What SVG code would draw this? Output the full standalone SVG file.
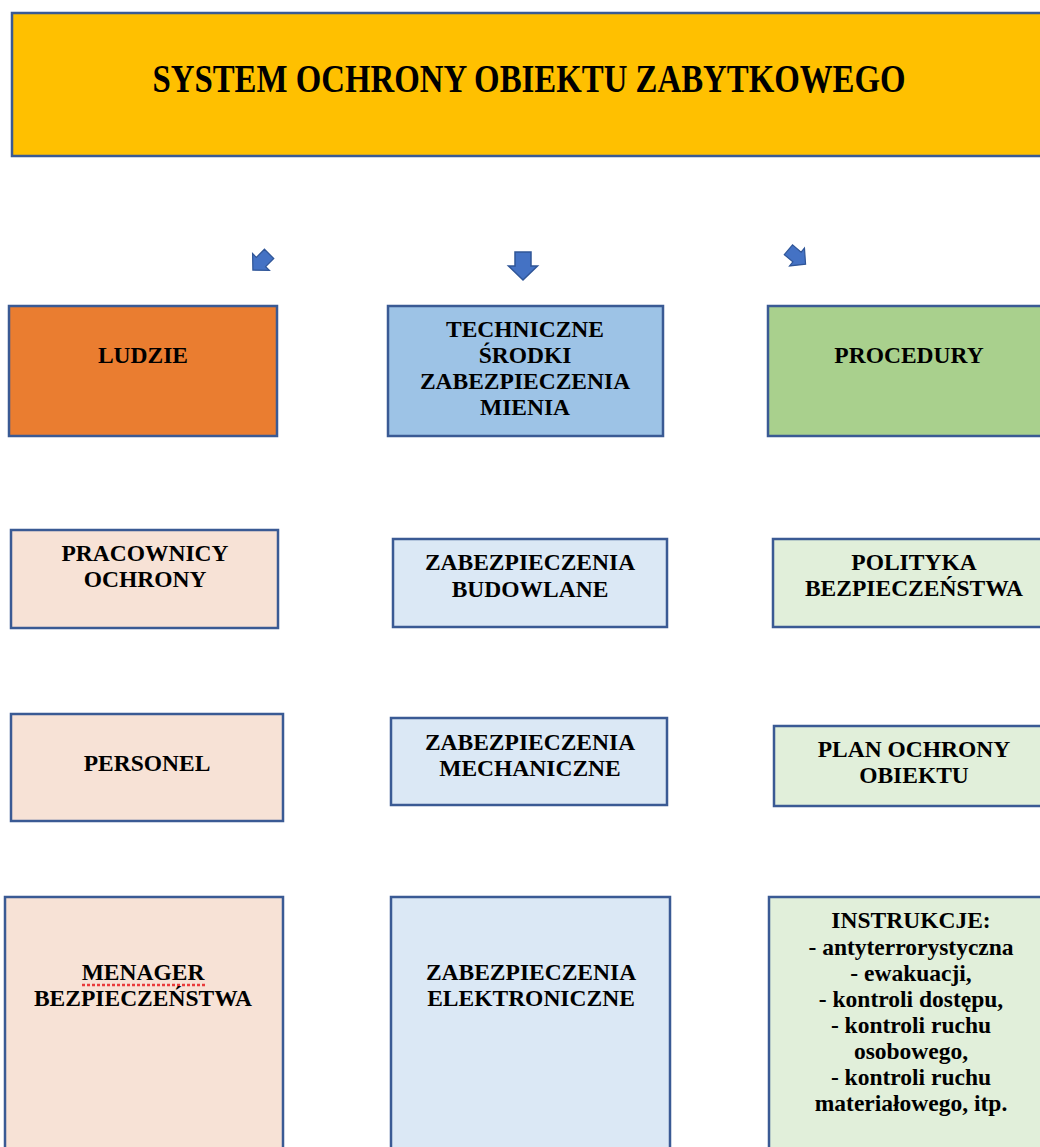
<svg xmlns="http://www.w3.org/2000/svg" width="1040" height="1147" viewBox="0 0 1040 1147">
<style>
.box{stroke:#3A5A94;stroke-width:2.5}
.t{font-family:"Liberation Serif","Times New Roman",serif;font-weight:bold;font-size:23.5px;fill:#000;text-anchor:middle}
.arr{fill:#4472C4;stroke:#2F5597;stroke-width:1.5;stroke-linejoin:miter}
</style>
<defs>
<path id="down" d="M-8,-14 H8 V0 H14.5 L0,14 L-14.5,0 H-8 Z"/>
</defs>
<rect width="1040" height="1147" fill="#fff"/>
<g id="title">
<rect class="box" x="12" y="13" width="1040" height="143" fill="#FFC000"/>
<text class="t" transform="translate(529,92) scale(0.842,1)" x="0" y="0" style="font-size:39px">SYSTEM OCHRONY OBIEKTU ZABYTKOWEGO</text>
</g>
<g id="connectors">
<use href="#down" class="arr" transform="translate(261,262) rotate(45) scale(0.82)"/>
<use href="#down" class="arr" transform="translate(523,266)"/>
<use href="#down" class="arr" transform="translate(797,257) rotate(-50) scale(0.8)"/>
</g>
<g id="ludzie">
<rect class="box" x="9" y="306" width="268" height="130" fill="#EA7D30"/>
<text class="t" x="143" y="363">LUDZIE</text>
</g>
<g id="techniczne">
<rect class="box" x="388" y="306" width="275" height="130" fill="#9DC3E6"/>
<text class="t" x="525" y="337">TECHNICZNE</text>
<text class="t" x="525" y="363">ŚRODKI</text>
<text class="t" x="525" y="389">ZABEZPIECZENIA</text>
<text class="t" x="525" y="415">MIENIA</text>
</g>
<g id="procedury">
<rect class="box" x="768" y="306" width="290" height="130" fill="#A9D08D"/>
<text class="t" x="909" y="363">PROCEDURY</text>
</g>
<g id="pracownicy">
<rect class="box" x="11" y="530" width="267" height="98" fill="#F7E2D6"/>
<text class="t" x="145" y="561">PRACOWNICY</text>
<text class="t" x="145" y="587">OCHRONY</text>
</g>
<g id="budowlane">
<rect class="box" x="393" y="539" width="274" height="88" fill="#DBE8F5"/>
<text class="t" x="530" y="570">ZABEZPIECZENIA</text>
<text class="t" x="530" y="597">BUDOWLANE</text>
</g>
<g id="polityka">
<rect class="box" x="773" y="539" width="285" height="88" fill="#E1EFDA"/>
<text class="t" x="914" y="570">POLITYKA</text>
<text class="t" x="914" y="596">BEZPIECZEŃSTWA</text>
</g>
<g id="personel">
<rect class="box" x="11" y="714" width="272" height="107" fill="#F7E2D6"/>
<text class="t" x="147" y="771">PERSONEL</text>
</g>
<g id="mechaniczne">
<rect class="box" x="391" y="718" width="276" height="87" fill="#DBE8F5"/>
<text class="t" x="530" y="750">ZABEZPIECZENIA</text>
<text class="t" x="530" y="776">MECHANICZNE</text>
</g>
<g id="plan">
<rect class="box" x="774" y="726" width="284" height="80" fill="#E1EFDA"/>
<text class="t" x="914" y="757">PLAN OCHRONY</text>
<text class="t" x="914" y="783">OBIEKTU</text>
</g>
<g id="menager">
<rect class="box" x="5" y="897" width="278" height="270" fill="#F7E2D6"/>
<text class="t" x="143" y="980">MENAGER</text>
<line x1="82" y1="985" x2="205" y2="985" stroke="#E83A3A" stroke-width="2.5" stroke-dasharray="3,2"/>
<text class="t" x="143" y="1006">BEZPIECZEŃSTWA</text>
</g>
<g id="elektroniczne">
<rect class="box" x="391" y="897" width="279" height="270" fill="#DBE8F5"/>
<text class="t" x="531" y="980">ZABEZPIECZENIA</text>
<text class="t" x="531" y="1006">ELEKTRONICZNE</text>
</g>
<g id="instrukcje">
<rect class="box" x="769" y="897" width="290" height="270" fill="#E1EFDA"/>
<text class="t" x="911" y="928">INSTRUKCJE:</text>
<text class="t" x="911" y="955">- antyterrorystyczna</text>
<text class="t" x="911" y="981">- ewakuacji,</text>
<text class="t" x="911" y="1007">- kontroli dostępu,</text>
<text class="t" x="911" y="1033">- kontroli ruchu</text>
<text class="t" x="911" y="1059">osobowego,</text>
<text class="t" x="911" y="1085">- kontroli ruchu</text>
<text class="t" x="911" y="1111">materiałowego, itp.</text>
</g>
</svg>
